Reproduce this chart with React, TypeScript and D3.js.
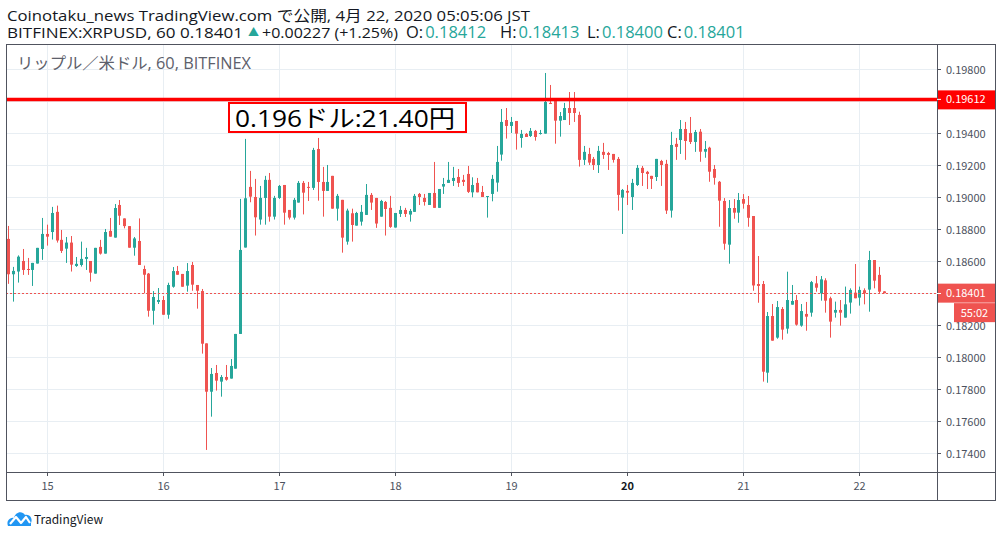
import React from 'react';
import * as d3 from 'd3';

const W = 1002;
const H = 537;

// hourly candles, first one at Apr 14 16:00 JST (times kept as UTC = JST wall clock)
const START = Date.UTC(2020, 3, 14, 16);
const HOUR = 3600000;

const opens = [
  0.1874, 0.18519, 0.18536, 0.18602, 0.18552, 0.18546, 0.18586, 0.18677, 0.18771, 0.18783,
  0.18909, 0.18734, 0.18679, 0.18717, 0.18571, 0.18577, 0.18615, 0.18602, 0.18523, 0.1869,
  0.18648, 0.1879, 0.18748, 0.18952, 0.18868, 0.1882, 0.18685, 0.18727, 0.18552, 0.18523,
  0.18291, 0.18346, 0.18358, 0.18266, 0.18441, 0.18539, 0.18521, 0.18448, 0.18577, 0.18452,
  0.18414, 0.18087, 0.17785, 0.17902, 0.17848, 0.17877, 0.17867, 0.17929, 0.18146, 0.18686,
  0.19065, 0.19002, 0.18861, 0.18996, 0.19109, 0.18879, 0.18996, 0.19077, 0.18921, 0.18873,
  0.18967, 0.1909, 0.19065, 0.19059, 0.19302, 0.19096, 0.1904, 0.19134, 0.18929, 0.18984,
  0.18723, 0.189, 0.18823, 0.18848, 0.1889, 0.19015, 0.18996, 0.18879, 0.18971, 0.18934,
  0.18811, 0.18896, 0.18921, 0.18892, 0.18909, 0.19021, 0.18996, 0.18952, 0.19027, 0.18934,
  0.19067, 0.1909, 0.19102, 0.19127, 0.19109, 0.19146, 0.19031, 0.1909, 0.19033, 0.19002,
  0.19021, 0.19092, 0.19267, 0.19483, 0.19446, 0.19477, 0.19371, 0.19396, 0.19383, 0.19415,
  0.19396, 0.19398, 0.1959, 0.19608, 0.19479, 0.19483, 0.19558, 0.19558, 0.19515, 0.19234,
  0.19271, 0.1924, 0.19202, 0.19284, 0.19277, 0.19271, 0.1924, 0.18998, 0.1904, 0.19002,
  0.19077, 0.19184, 0.19159, 0.19134, 0.19127, 0.19227, 0.19209, 0.18917, 0.19334, 0.19358,
  0.19427, 0.19402, 0.19346, 0.1941, 0.19285, 0.1931, 0.19177, 0.19097, 0.18977, 0.18704,
  0.18933, 0.18904, 0.18989, 0.18952, 0.18883, 0.18458, 0.18458, 0.17904, 0.18258, 0.18123,
  0.18302, 0.18179, 0.18329, 0.18358, 0.18198, 0.18271, 0.18279, 0.18462, 0.184, 0.18481,
  0.18369, 0.18279, 0.18296, 0.18248, 0.18342, 0.18404, 0.18373, 0.18419, 0.18423, 0.18608,
  0.18515, 0.18412,
];
const highs = [
  0.18821, 0.18565, 0.18637, 0.18677, 0.18621, 0.1859, 0.18684, 0.18871, 0.18829, 0.1894,
  0.18948, 0.18796, 0.18752, 0.18758, 0.18627, 0.18723, 0.18684, 0.18602, 0.18684, 0.18734,
  0.18802, 0.18871, 0.18958, 0.18983, 0.18868, 0.1882, 0.18752, 0.18868, 0.18573, 0.18527,
  0.18414, 0.18433, 0.18383, 0.18466, 0.18564, 0.18571, 0.18521, 0.18589, 0.18596, 0.18452,
  0.18427, 0.18087, 0.17933, 0.17952, 0.17889, 0.17952, 0.17989, 0.18146, 0.1899, 0.19365,
  0.19165, 0.19115, 0.19071, 0.19134, 0.19152, 0.19009, 0.19077, 0.19077, 0.18921, 0.18996,
  0.19102, 0.19102, 0.19096, 0.19309, 0.19371, 0.1919, 0.19202, 0.19134, 0.19021, 0.18984,
  0.18929, 0.18929, 0.18909, 0.18952, 0.19083, 0.19027, 0.18996, 0.18984, 0.18977, 0.19009,
  0.18902, 0.18946, 0.18934, 0.18927, 0.19021, 0.19027, 0.19021, 0.19027, 0.19221, 0.19052,
  0.19121, 0.19221, 0.1919, 0.19177, 0.1914, 0.19196, 0.19125, 0.19121, 0.19071, 0.19008,
  0.1914, 0.19321, 0.19552, 0.19558, 0.19502, 0.19477, 0.19421, 0.19402, 0.19433, 0.19421,
  0.19421, 0.19777, 0.19702, 0.19608, 0.19533, 0.1959, 0.19658, 0.19658, 0.19535, 0.19321,
  0.19309, 0.19252, 0.19321, 0.1934, 0.19284, 0.19271, 0.19252, 0.19052, 0.19077, 0.19115,
  0.19202, 0.19196, 0.19165, 0.19134, 0.1924, 0.19234, 0.19234, 0.19409, 0.19371, 0.19483,
  0.19471, 0.19502, 0.19421, 0.19427, 0.19352, 0.19316, 0.19202, 0.19102, 0.18995, 0.18983,
  0.18989, 0.19027, 0.1902, 0.19008, 0.18883, 0.18633, 0.18477, 0.18283, 0.18333, 0.18352,
  0.18314, 0.18535, 0.18452, 0.18389, 0.18333, 0.18346, 0.18477, 0.18508, 0.18508, 0.18494,
  0.18379, 0.18348, 0.18358, 0.18442, 0.18431, 0.18583, 0.18442, 0.18431, 0.18665, 0.18608,
  0.18565, 0.18413,
];
const lows = [
  0.18459, 0.18348, 0.18467, 0.18515, 0.18515, 0.18446, 0.18586, 0.18609, 0.18698, 0.18736,
  0.18717, 0.18652, 0.1859, 0.18536, 0.18565, 0.18567, 0.18546, 0.18473, 0.18523, 0.18642,
  0.18648, 0.18754, 0.18748, 0.18827, 0.18806, 0.18685, 0.18635, 0.18577, 0.184, 0.18254,
  0.18204, 0.18333, 0.18266, 0.18241, 0.18435, 0.18516, 0.18441, 0.1841, 0.18416, 0.18304,
  0.18023, 0.17421, 0.17629, 0.17792, 0.17754, 0.17854, 0.17867, 0.17929, 0.18146, 0.18686,
  0.18969, 0.18761, 0.18829, 0.18829, 0.18848, 0.18861, 0.1899, 0.18829, 0.18861, 0.18861,
  0.18967, 0.18893, 0.18977, 0.19046, 0.18979, 0.18879, 0.1904, 0.18929, 0.18854, 0.18654,
  0.18704, 0.18723, 0.18823, 0.18823, 0.1889, 0.18921, 0.18809, 0.18879, 0.18761, 0.18809,
  0.18811, 0.18877, 0.18877, 0.18848, 0.18909, 0.18952, 0.18948, 0.18952, 0.18934, 0.18934,
  0.19021, 0.1909, 0.19071, 0.19065, 0.19071, 0.19027, 0.19, 0.19031, 0.19002, 0.18873,
  0.18975, 0.19035, 0.19229, 0.19367, 0.19402, 0.19298, 0.1931, 0.19377, 0.19377, 0.19354,
  0.19392, 0.19398, 0.19583, 0.19335, 0.19379, 0.19483, 0.19452, 0.19471, 0.19192, 0.19202,
  0.19202, 0.19171, 0.19152, 0.1924, 0.19171, 0.19217, 0.18917, 0.18771, 0.18952, 0.18921,
  0.19071, 0.19071, 0.19052, 0.19052, 0.19102, 0.19071, 0.18896, 0.18873, 0.19234, 0.19271,
  0.19234, 0.19333, 0.19284, 0.19222, 0.19247, 0.19097, 0.19079, 0.18816, 0.18672, 0.18585,
  0.18866, 0.18841, 0.18929, 0.18816, 0.18416, 0.18341, 0.17848, 0.17841, 0.18104, 0.18116,
  0.1811, 0.18148, 0.18329, 0.18198, 0.18191, 0.18166, 0.18254, 0.1841, 0.18354, 0.18279,
  0.18123, 0.18248, 0.18198, 0.18248, 0.18273, 0.18369, 0.18323, 0.18331, 0.18285, 0.18431,
  0.184, 0.184,
];
const closes = [
  0.18519, 0.1854, 0.18629, 0.18546, 0.18546, 0.1859, 0.18684, 0.18771, 0.18754, 0.18902,
  0.1873, 0.18665, 0.18717, 0.18579, 0.18584, 0.18615, 0.18627, 0.18529, 0.18684, 0.18648,
  0.18783, 0.18754, 0.18933, 0.18885, 0.1882, 0.18685, 0.18743, 0.18577, 0.18516, 0.18291,
  0.18377, 0.18358, 0.18266, 0.18452, 0.18539, 0.18516, 0.18441, 0.18539, 0.18454, 0.18416,
  0.18085, 0.17785, 0.17896, 0.17854, 0.17877, 0.1786, 0.17946, 0.18146, 0.18671, 0.18994,
  0.19004, 0.18875, 0.18996, 0.19109, 0.18879, 0.18996, 0.19071, 0.18904, 0.18873, 0.18984,
  0.1909, 0.19029, 0.19059, 0.19296, 0.19096, 0.1904, 0.19096, 0.18929, 0.19009, 0.18748,
  0.18917, 0.18827, 0.18902, 0.18909, 0.19015, 0.18967, 0.18836, 0.18977, 0.18927, 0.18815,
  0.18902, 0.18921, 0.18896, 0.18915, 0.19009, 0.19002, 0.18971, 0.19027, 0.18934, 0.19052,
  0.19083, 0.19109, 0.19121, 0.1909, 0.19096, 0.19034, 0.19077, 0.19031, 0.19002, 0.19008,
  0.19115, 0.19221, 0.19471, 0.19446, 0.19471, 0.19398, 0.19396, 0.19377, 0.19415, 0.19377,
  0.19402, 0.19596, 0.19583, 0.19479, 0.19508, 0.19558, 0.19527, 0.19527, 0.19234, 0.19284,
  0.19217, 0.19202, 0.1929, 0.19265, 0.19265, 0.19234, 0.19015, 0.19046, 0.19029, 0.1909,
  0.19184, 0.19152, 0.19146, 0.19115, 0.1924, 0.19202, 0.18917, 0.19327, 0.19315, 0.19427,
  0.19352, 0.19346, 0.19408, 0.19285, 0.19302, 0.1916, 0.19122, 0.18979, 0.1871, 0.18933,
  0.18904, 0.18983, 0.1896, 0.18872, 0.18449, 0.18446, 0.1791, 0.18258, 0.18104, 0.18314,
  0.18173, 0.18358, 0.18352, 0.18204, 0.18289, 0.18254, 0.1847, 0.18435, 0.18487, 0.18354,
  0.18223, 0.18296, 0.18279, 0.18331, 0.18421, 0.18369, 0.18421, 0.184, 0.18608, 0.18479,
  0.1841, 0.18401,
];

const priceTicks = [0.174, 0.176, 0.178, 0.18, 0.182, 0.184, 0.186, 0.188, 0.19, 0.192, 0.194, 0.196, 0.198];
const hiddenTickLabels = [0.184, 0.196]; // covered by the price labels in the original
const dayTicks = [15, 16, 17, 18, 19, 20, 21, 22];
const boldDays = [20];
const alertPrice = 0.19612;
const lastPrice = 0.18401;
const countdown = '55:02';
const noteText = '0.196ドル:21.40円';
const titleText = 'Coinotaku_news TradingView.com で公開, 4月 22, 2020 05:05:06 JST';
const symbolText = 'BITFINEX:XRPUSD, 60 0.18401';
const changeText = '+0.00227 (+1.25%)';
const ohlcLabels = ['O:', 'H:', 'L:', 'C:'];
const ohlcValues = ['0.18412', '0.18413', '0.18400', '0.18401'];
const legendText = 'リップル／米ドル, 60, BITFINEX';

const UP = '#26a69a';
const DOWN = '#ef5350';
const GRID = '#e8eef3';
const FRAME = '#50535e';
const TEXT = '#131722';
const AXIS_TEXT = '#4c525e';
const FONT = "'Noto Sans CJK JP', 'Noto Sans', sans-serif";
const HEAD_FONT = "'Open Sans', 'Noto Sans CJK JP', sans-serif";

// frame geometry
const L = 6;
const R = 995;
const T = 44;
const B = 500;
const AX = 937;
const AY = 472;

// header OHLC group start x
const ohlcX = [406, 500, 587, 667];

const times = opens.map((_, i) => new Date(START + i * HOUR));

const x = d3
  .scaleTime()
  .domain([times[0], times[times.length - 1]])
  .range([8.2, 8.2 + (times.length - 1) * 4.836]);

const y = d3.scaleLinear().domain([0.174, 0.198]).range([453.3, 69.3]);

const fmt = d3.format('.5f');

const Logo: React.FC = () => (
  <g transform="translate(7, 509)">
    <path d="M1 17 C-1 12 3 8 7 9 C8 3 15 1 18 6 C23 5 26 10 24 14 L24 17 Z" fill="#2196f3" />
    <path d="M3 15 L9 8 L14 14 L19 8 L23 14" fill="none" stroke="#ffffff" strokeWidth={2.2} strokeLinejoin="round" />
  </g>
);

const App: React.FC = () => {
  const lastY = y(lastPrice);
  const alertY = y(alertPrice);
  const bodyW = 3;

  return (
    <svg
      width={W}
      height={H}
      style={{ position: 'absolute', left: 0, top: 0, background: '#fff' }}
      fontFamily={FONT}
    >
      <rect x={0} y={0} width={W} height={H} fill="#ffffff" />

      {/* header */}
      <g fontFamily={HEAD_FONT} fontSize={15} fill={TEXT}>
        <text x={7} y={20.5} textLength={523} lengthAdjust="spacingAndGlyphs">
          {titleText}
        </text>
        <text x={7} y={37.5} textLength={236} lengthAdjust="spacingAndGlyphs">
          {symbolText}
        </text>
        <text x={248} y={36} fontSize={11} fill={UP}>
          ▲
        </text>
        <text x={262} y={37.5} textLength={136} lengthAdjust="spacingAndGlyphs">
          {changeText}
        </text>
        {ohlcLabels.map((lab, i) => (
          <text key={lab} x={ohlcX[i]} y={37.5} fontSize={16.5}>
            <tspan>{lab}</tspan>
            <tspan dx={2} fill={UP}>
              {ohlcValues[i]}
            </tspan>
          </text>
        ))}
      </g>

      {/* grid */}
      <g>
        {priceTicks.map((p) => (
          <line key={p} x1={L} x2={AX} y1={Math.round(y(p)) + 0.5} y2={Math.round(y(p)) + 0.5} stroke={GRID} />
        ))}
        {dayTicks.map((d) => {
          const xx = Math.round(x(new Date(Date.UTC(2020, 3, d)))) + 0.5;
          return <line key={d} x1={xx} x2={xx} y1={T} y2={AY} stroke={GRID} />;
        })}
      </g>

      <text
        x={17}
        y={68.5}
        fontSize={15.5}
        fontFamily={HEAD_FONT}
        fill="#5d606b"
        textLength={234}
        lengthAdjust="spacingAndGlyphs"
      >
        {legendText}
      </text>

      {/* candles */}
      <g>
        {times.map((t, i) => {
          const o = opens[i];
          const c = closes[i];
          const col = c >= o ? UP : DOWN;
          const cx = Math.round(x(t));
          const top = y(Math.max(o, c));
          const bot = y(Math.min(o, c));
          return (
            <g key={i}>
              <line x1={cx + 0.5} x2={cx + 0.5} y1={y(highs[i])} y2={y(lows[i])} stroke={col} />
              <rect x={cx - 1} y={top} width={bodyW} height={Math.max(1, bot - top)} fill={col} />
            </g>
          );
        })}
      </g>

      {/* last price line */}
      <line
        x1={L}
        x2={AX}
        y1={Math.round(lastY) + 0.5}
        y2={Math.round(lastY) + 0.5}
        stroke={DOWN}
        strokeDasharray="2,2"
      />

      {/* alert line */}
      <line x1={L} x2={AX} y1={alertY} y2={alertY} stroke="#ff0000" strokeWidth={3.5} />

      {/* note box */}
      <rect x={229} y={103} width={237} height={29} fill="#ffffff" stroke="#ff0000" strokeWidth={2} />
      <text
        x={235}
        y={127}
        fontSize={24}
        fontFamily={HEAD_FONT}
        fill="#000000"
        textLength={220}
        lengthAdjust="spacingAndGlyphs"
      >
        {noteText}
      </text>

      {/* frame */}
      <rect x={L + 0.5} y={T + 0.5} width={R - L} height={B - T} fill="none" stroke={FRAME} />
      <line x1={AX + 0.5} x2={AX + 0.5} y1={T} y2={B} stroke={FRAME} />
      <line x1={L} x2={R} y1={AY + 0.5} y2={AY + 0.5} stroke={FRAME} />

      {/* price axis */}
      <g fontSize={11} fill={AXIS_TEXT}>
        {priceTicks.map((p) => {
          const yy = Math.round(y(p)) + 0.5;
          return (
            <g key={p}>
              <line x1={AX} x2={AX + 4} y1={yy} y2={yy} stroke={FRAME} />
              {!hiddenTickLabels.includes(p) && (
                <text x={946} y={yy + 4}>
                  {fmt(p)}
                </text>
              )}
            </g>
          );
        })}
      </g>

      {/* price labels on axis */}
      <rect x={AX + 1} y={alertY - 9} width={R - AX - 1} height={19} fill="#ff0000" />
      <line x1={AX} x2={AX + 4} y1={alertY} y2={alertY} stroke="#ffffff" />
      <text x={946} y={alertY + 4} fontSize={11} fill="#ffffff">
        {fmt(alertPrice)}
      </text>

      <rect x={AX + 1} y={lastY - 9.5} width={R - AX - 1} height={19} fill={DOWN} />
      <line x1={AX} x2={AX + 4} y1={Math.round(lastY) + 0.5} y2={Math.round(lastY) + 0.5} stroke="#ffffff" />
      <text x={946} y={lastY + 4} fontSize={11} fill="#ffffff">
        {fmt(lastPrice)}
      </text>
      <rect x={954} y={lastY + 10} width={R - 954} height={19} fill={DOWN} />
      <text x={974.5} y={lastY + 23.5} fontSize={11} fill="#ffffff" textAnchor="middle">
        {countdown}
      </text>

      {/* time axis */}
      <g fontSize={11} fill={AXIS_TEXT}>
        {dayTicks.map((d) => {
          const xx = Math.round(x(new Date(Date.UTC(2020, 3, d)))) + 0.5;
          const bold = boldDays.includes(d);
          return (
            <g key={d}>
              <line x1={xx} x2={xx} y1={AY} y2={AY + 4} stroke={FRAME} />
              <text
                x={xx}
                y={490}
                textAnchor="middle"
                fontWeight={bold ? 'bold' : 'normal'}
                fill={bold ? TEXT : AXIS_TEXT}
              >
                {d}
              </text>
            </g>
          );
        })}
      </g>

      {/* footer */}
      <Logo />
      <text x={34} y={524} fontSize={12} fill={TEXT}>
        TradingView
      </text>
    </svg>
  );
};

export default App;
